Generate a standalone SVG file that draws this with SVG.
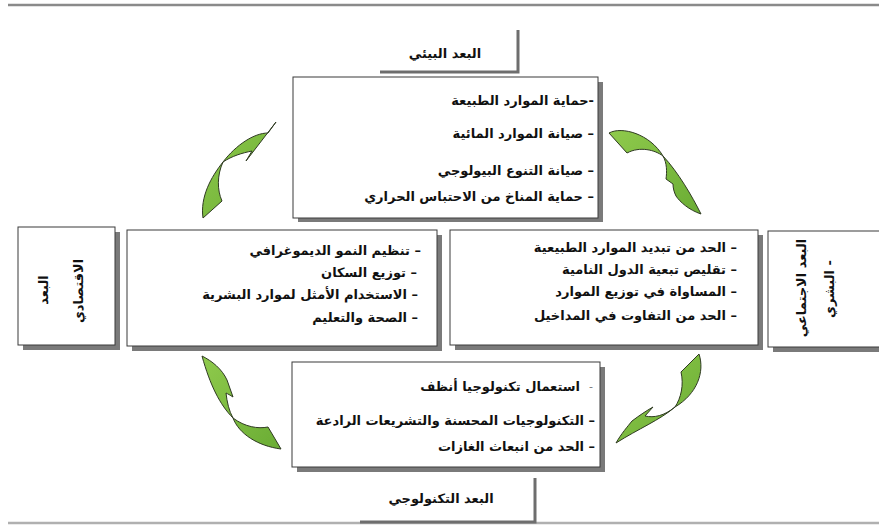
<svg xmlns="http://www.w3.org/2000/svg" width="879" height="525" viewBox="0 0 879 525">
<style>
.t{font-family:"DejaVu Sans","Noto Sans",sans-serif;font-weight:bold;font-size:13px;fill:#111;direction:rtl;text-anchor:start}
.c{font-family:"DejaVu Sans","Noto Sans",sans-serif;font-weight:bold;font-size:13px;fill:#111;direction:rtl;text-anchor:middle}
.box{fill:#fff;stroke:#3a3a3a;stroke-width:1}
.sh{fill:#7a7a7a}
.lab{fill:none;stroke:#6e6e6e;stroke-width:3}
.arr{fill:url(#g);stroke:#2f3a22;stroke-width:1;stroke-linejoin:round}
</style>
<defs>
<linearGradient id="g" x1="0" y1="0" x2="1" y2="1">
<stop offset="0" stop-color="#8fca4c"/>
<stop offset="1" stop-color="#6aac34"/>
</linearGradient>
</defs>
<rect width="879" height="525" fill="#fff"/>
<line x1="8" y1="5" x2="879" y2="5" stroke="#8a8a8a" stroke-width="2.5"/>
<line x1="8" y1="523" x2="879" y2="523" stroke="#b0b0b0" stroke-width="2.5"/>

<g id="label-top">
<polyline class="lab" points="380,72 518,72 518,30"/>
<text class="c" x="445" y="58">البعد البيئي</text>
</g>
<g id="box-top">
<rect class="sh" x="298" y="82" width="305" height="140"/>
<rect class="box" x="293" y="77" width="305" height="141"/>
<text class="t" x="594" y="105">-حماية الموارد الطبيعة</text>
<text class="t" x="594" y="138">– صيانة الموارد المائية</text>
<text class="t" x="594" y="175">– صيانة التنوع البيولوجي</text>
<text class="t" x="594" y="201">– حماية المناخ من الاحتباس الحراري</text>
</g>
<g id="label-left">
<rect class="sh" x="23" y="232" width="97" height="118"/>
<rect class="box" x="18" y="227" width="97" height="118"/>
<text class="c" transform="translate(48,290) rotate(-90)">البعد</text>
<text class="c" transform="translate(83,291) rotate(-90)">الاقتصادي</text>
</g>
<g id="box-left">
<rect class="sh" x="132" y="235" width="310" height="116"/>
<rect class="box" x="127" y="230" width="310" height="116"/>
<text class="t" x="421" y="255">– تنظيم النمو الديموغرافي</text>
<text class="t" x="417" y="277">– توزيع السكان</text>
<text class="t" x="418" y="299">– الاستخدام الأمثل لموارد البشرية</text>
<text class="t" x="418" y="322">– الصحة والتعليم</text>
</g>
<g id="box-right">
<rect class="sh" x="455" y="235" width="308" height="115"/>
<rect class="box" x="450" y="230" width="308" height="115"/>
<text class="t" x="737" y="252">– الحد من تبديد الموارد الطبيعية</text>
<text class="t" x="737" y="274">– تقليص تبعية الدول النامية</text>
<text class="t" x="737" y="296">– المساواة في توزيع الموارد</text>
<text class="t" x="737" y="320">– الحد من التفاوت في المداخيل</text>
</g>
<g id="label-right">
<rect class="sh" x="773" y="236" width="120" height="116"/>
<rect class="box" x="768" y="231" width="120" height="116"/>
<text class="c" transform="translate(806,288) rotate(-90)">البعد الاجتماعي</text>
<text class="c" transform="translate(834,289) rotate(-90)">- البشري</text>
</g>
<g id="box-bottom">
<rect class="sh" x="297" y="367" width="308" height="105"/>
<rect class="box" x="292" y="362" width="308" height="105"/>
<text class="t" x="580" y="391">استعمال تكنولوجيا أنظف</text>
<text x="589" y="390" style="font-family:'DejaVu Sans',sans-serif;font-size:11px;fill:#777">-</text>
<text class="t" x="595" y="425">– التكنولوجيات المحسنة والتشريعات الرادعة</text>
<text class="t" x="595" y="451">– الحد من انبعاث الغازات</text>
</g>
<g id="label-bottom">
<polyline class="lab" points="360,522 535,522 535,478"/>
<text class="c" x="441" y="503">البعد التكنولوجي</text>
</g>
<g id="connectors">
<path class="arr" d="M276,122 L268,133 C254,133 236,145 223,162 C211,177 200,197 203,218 L222,201 C217,190 217,175 223,162 C232,156 242,153 252,151 L246,161 Z"/>
<path class="arr" d="M609,133 C622,126 650,134 663,156 C678,172 692,196 701,214 C689,210 680,202 676,196 C674,192 673,188 673,184 L666,179 C667,172 667,163 663,156 C655,150 640,146 627,153 Z"/>
<path class="arr" d="M202,356 C212,361 222,369 227,380 L233,397 C230,395 228,394 226,393 C227,402 229,411 233,418 C239,434 258,446 281,449 L268,427 C258,429 245,427 233,418 C220,405 210,385 202,356 Z"/>
<path class="arr" d="M699,354 C705,372 697,394 675,407 C660,420 638,429 616,443 C621,434 628,426 632,421 C640,415 646,411 653,407 L645,416 C654,418 664,416 675,407 C681,398 684,385 681,372 Z"/>
</g>
</svg>
